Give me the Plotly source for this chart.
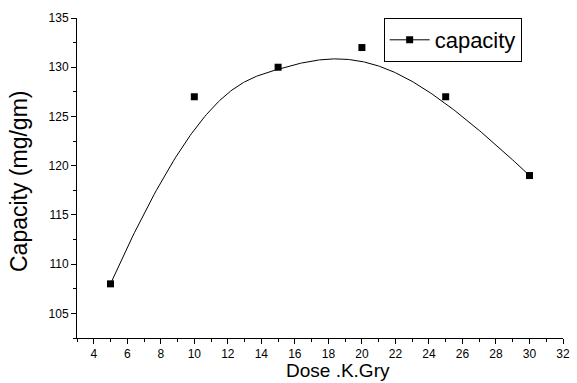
import numpy as np
import plotly.graph_objects as go

dose = [5, 10, 15, 20, 25, 30]
capacity = [108, 127, 130, 132, 127, 119]
x_ticks = list(range(4, 33, 2))
y_ticks = list(range(105, 136, 5))


def bspline(px, py, k=3, n=300):
    # clamped uniform B-spline using data points as control points (Origin-style)
    m = len(px)
    inner = list(range(1, m - k))
    knots = np.array([0] * (k + 1) + inner + [m - k] * (k + 1), dtype=float)
    ts = np.linspace(0, m - k, n)
    out_x, out_y = [], []
    P = np.array([px, py], dtype=float).T
    for t in ts:
        if t >= knots[-1]:
            s = m - 1
        else:
            s = np.searchsorted(knots, t, side="right") - 1
        d = [P[j + s - k].copy() for j in range(k + 1)]
        for r in range(1, k + 1):
            for j in range(k, r - 1, -1):
                i = j + s - k
                denom = knots[i + k + 1 - r] - knots[i]
                a = 0 if denom == 0 else (t - knots[i]) / denom
                d[j] = (1 - a) * d[j - 1] + a * d[j]
        out_x.append(d[k][0])
        out_y.append(d[k][1])
    return out_x, out_y


cx, cy = bspline(dose, capacity)

FONT = "Liberation Sans, Arial, sans-serif"

fig = go.Figure()
fig.add_trace(go.Scatter(x=cx, y=cy, mode="lines", line=dict(color="black", width=1),
                         showlegend=False, hoverinfo="skip"))
fig.add_trace(go.Scatter(x=dose, y=capacity, mode="markers",
                         marker=dict(symbol="square", size=7, color="black"),
                         showlegend=False))
fig.add_trace(go.Scatter(x=[None], y=[None], mode="lines+markers", name="capacity",
                         line=dict(color="black", width=1),
                         marker=dict(symbol="square", size=7, color="black")))

axis_common = dict(showgrid=False, zeroline=False, showline=True, linecolor="black",
                   linewidth=1, ticks="outside", ticklen=5, tickcolor="black",
                   tickfont=dict(family=FONT, size=12, color="black"),
                   mirror=False)

fig.update_xaxes(range=[3, 32], tickvals=x_ticks, ticklabelstandoff=0,
                 minor=dict(ticks="outside", ticklen=3, dtick=1, tick0=3, tickcolor="black"),
                 **axis_common)
fig.update_yaxes(range=[102.5, 135], tickvals=y_ticks,
                 minor=dict(ticks="outside", ticklen=3, dtick=2.5, tick0=102.5, tickcolor="black"),
                 **axis_common)

fig.add_annotation(text="Dose .K.Gry", xref="paper", yref="paper", x=0.5365, y=-0.1375,
                   xanchor="center", yanchor="bottom", showarrow=False, borderpad=0,
                   font=dict(family=FONT, size=19, color="black"))
fig.add_annotation(text="Capacity (mg/gm)", xref="paper", yref="paper", x=-0.1197, y=0.49,
                   xanchor="center", yanchor="middle", showarrow=False, textangle=-90,
                   font=dict(family=FONT, size=23, color="black"))

fig.update_layout(
    width=577, height=383,
    margin=dict(l=77, r=7, t=18, b=45),
    plot_bgcolor="white", paper_bgcolor="white",
    legend=dict(x=0.631, y=1, xanchor="left", yanchor="top",
                bordercolor="black", borderwidth=1, bgcolor="white",
                font=dict(family=FONT, size=22, color="black"),
                itemwidth=40, tracegroupgap=0),
)

fig.write_html("out.html")
